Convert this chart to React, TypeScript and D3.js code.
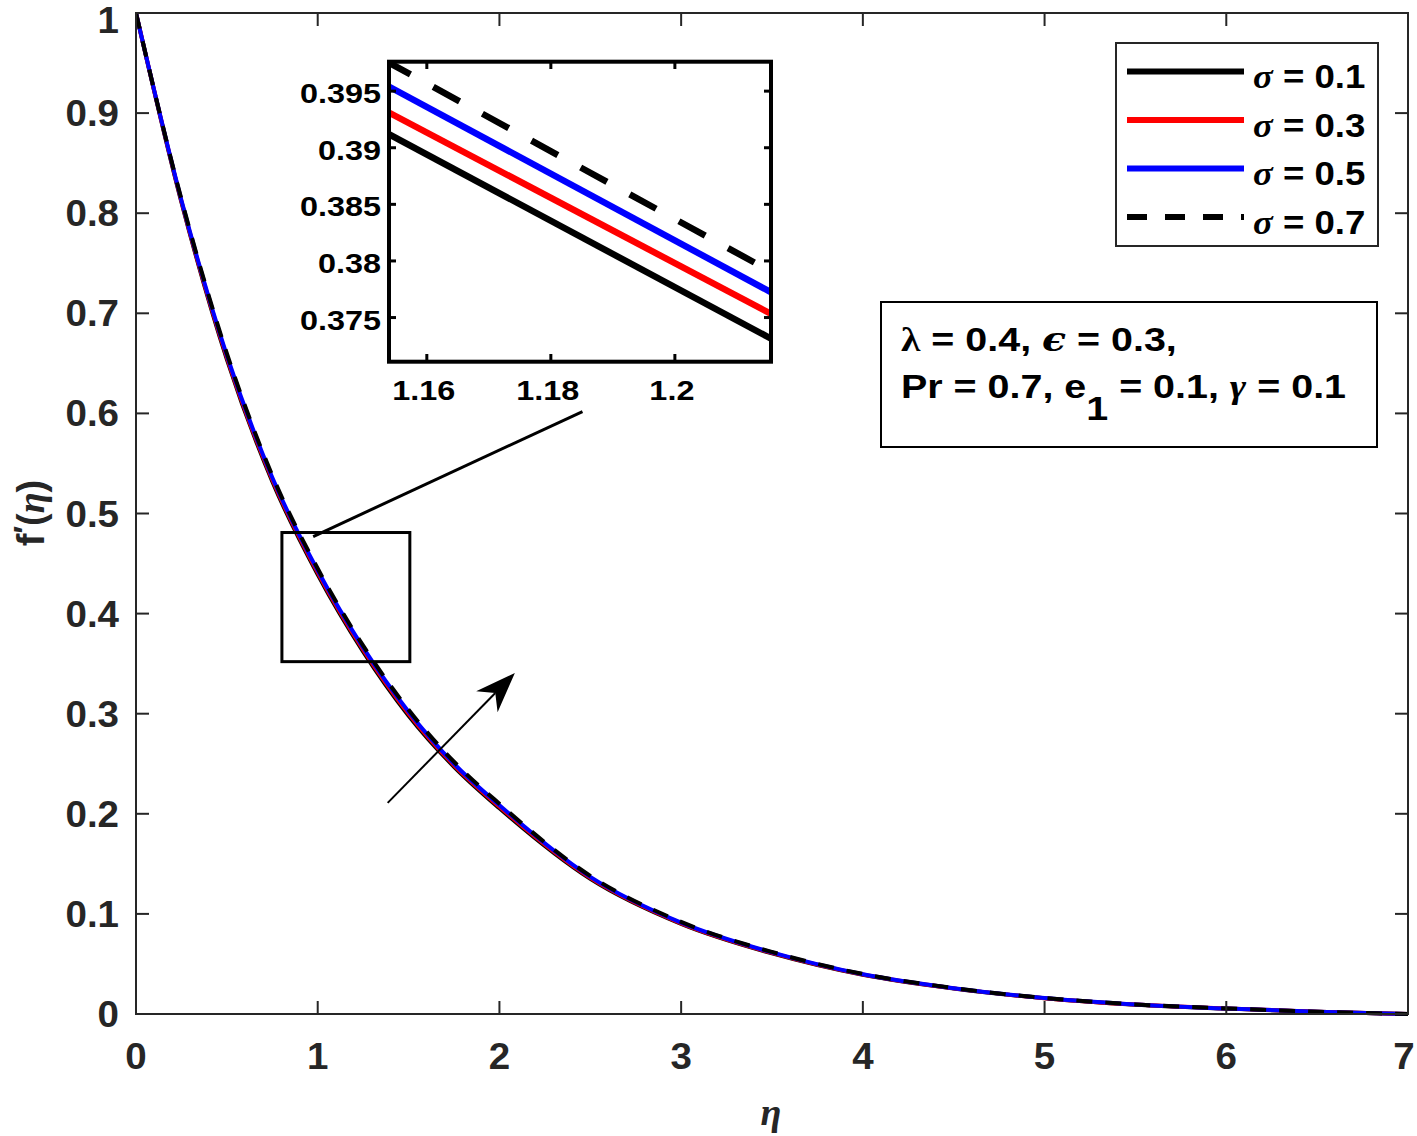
import React from 'react'
import * as d3 from 'd3'

// similarity variable eta and f'(eta), one list per sigma
const eta = [0, 0.25, 0.5, 0.75, 1, 1.25, 1.5, 1.75, 2, 2.5, 3, 3.5, 4, 4.5, 5, 5.5, 6, 6.5, 7]
const sigma01 = [1, 0.811, 0.654, 0.532, 0.439, 0.362, 0.298, 0.247, 0.2055, 0.135, 0.09, 0.0605, 0.0391, 0.0254, 0.0157, 0.0093, 0.0054, 0.0022, 0]
const sigma03 = [1, 0.812, 0.656, 0.534, 0.441, 0.364, 0.3, 0.2485, 0.207, 0.136, 0.0906, 0.061, 0.0394, 0.0256, 0.0158, 0.0094, 0.0055, 0.0023, 0]
const sigma05 = [1, 0.813, 0.658, 0.536, 0.443, 0.366, 0.302, 0.25, 0.2085, 0.137, 0.0913, 0.0615, 0.0397, 0.0258, 0.0159, 0.0095, 0.0055, 0.0023, 0]
const sigma07 = [1, 0.814, 0.66, 0.538, 0.445, 0.368, 0.304, 0.252, 0.21, 0.138, 0.092, 0.062, 0.04, 0.026, 0.016, 0.0096, 0.0056, 0.0023, 0]

const sigmaLabels = ['0.1', '0.3', '0.5', '0.7']
const seriesColors = ['#000000', '#ff0000', '#0000ff', '#000000']

// zoomed window
const insetEta = [1.15, 1.22]
const inset01 = [0.39234, 0.37182]
const inset03 = [0.39423, 0.37403]
const inset05 = [0.39655, 0.37591]
const inset07 = [0.39868, 0.37771]

const xTicks = [0, 1, 2, 3, 4, 5, 6, 7]
const yTicks = [0, 0.1, 0.2, 0.3, 0.4, 0.5, 0.6, 0.7, 0.8, 0.9, 1]
const insetXTicks = [1.16, 1.18, 1.2]
const insetYTicks = [0.375, 0.38, 0.385, 0.39, 0.395]

// annotation marks in data units
const zoomBox = { x0: 0.803, x1: 1.507, y0: 0.352, y1: 0.481 }
const connector = [[0.975, 0.477], [2.457, 0.6018]]
const arrow = [[1.385, 0.2109], [2.085, 0.3406]]

const W = 1417
const H = 1136
const sans = "'Liberation Sans', Arial, Helvetica, sans-serif"
const serif = "'Liberation Serif', 'DejaVu Serif', serif"
const axisColor = '#262626'

function App() {
  const x = d3.scaleLinear().domain([0, 7]).range([136, 1408])
  const y = d3.scaleLinear().domain([0, 1]).range([1014, 13])

  const ix = d3.scaleLinear().domain([1.1539, 1.2155]).range([389, 771])
  const iy = d3.scaleLinear().domain([0.3711, 0.3976]).range([361.7, 61.7])

  const series = [sigma01, sigma03, sigma05, sigma07]
  const insetSeries = [inset01, inset03, inset05, inset07]

  const line = d3.line<number>()
    .x((d, i) => x(eta[i]))
    .y(d => y(d))
    .curve(d3.curveMonotoneX)

  const insetLine = d3.line<number>()
    .x((d, i) => ix(insetEta[i]))
    .y(d => iy(d))

  const [ax0, ay0] = [x(arrow[0][0]), y(arrow[0][1])]
  const [ax1, ay1] = [x(arrow[1][0]), y(arrow[1][1])]
  const ang = Math.atan2(ay1 - ay0, ax1 - ax0)
  const rot = (len, off) => [ax1 - len * Math.cos(ang) + off * Math.sin(ang), ay1 - len * Math.sin(ang) - off * Math.cos(ang)]
  const headPts = [[ax1, ay1], rot(40, 15), rot(28, 0), rot(40, -15)]

  return (
    <svg width={W} height={H} style={{ position: 'absolute', left: 0, top: 0, background: '#fff' }}>
      <defs>
        <clipPath id="plotClip">
          <rect x={136} y={10} width={1272} height={1006} />
        </clipPath>
        <clipPath id="insetClip">
          <rect x={389} y={61.7} width={382} height={300} />
        </clipPath>
      </defs>
      <rect x={0} y={0} width={W} height={H} fill="#fff" />

      {/* main curves */}
      <g clipPath="url(#plotClip)">
        {series.map((s, i) => (
          <path key={i} d={line(s) || ''} fill="none" stroke={seriesColors[i]}
            strokeWidth={4} strokeDasharray={i === 3 ? '16 13' : undefined} />
        ))}
      </g>

      {/* main frame and ticks */}
      <rect x={136} y={13} width={1272} height={1001} fill="none" stroke={axisColor} strokeWidth={2} />
      <g stroke={axisColor} strokeWidth={2}>
        {xTicks.map(t => (
          <g key={'xt' + t}>
            <line x1={x(t)} x2={x(t)} y1={1014} y2={1001} />
            <line x1={x(t)} x2={x(t)} y1={13} y2={26} />
          </g>
        ))}
        {yTicks.map(t => (
          <g key={'yt' + t}>
            <line x1={136} x2={149} y1={y(t)} y2={y(t)} />
            <line x1={1408} x2={1395} y1={y(t)} y2={y(t)} />
          </g>
        ))}
      </g>
      <g fontFamily={sans} fontWeight="bold" fontSize={36} fill={axisColor}>
        {xTicks.map(t => (
          <text key={'xl' + t} transform={`translate(${Math.min(x(t), 1404)},1069) scale(1.07,1)`} textAnchor="middle">{t}</text>
        ))}
        {yTicks.map(t => (
          <text key={'yl' + t} transform={`translate(119,${Math.max(y(t) + 13, 33)}) scale(1.07,1)`} textAnchor="end">{+t.toFixed(1)}</text>
        ))}
      </g>

      {/* axis labels */}
      <text x={771} y={1125} textAnchor="middle" fontFamily={serif} fontStyle="italic" fontWeight="bold" fontSize={38} fill={axisColor}>η</text>
      <text transform="translate(44,513) rotate(-90)" textAnchor="middle" fontFamily={sans} fontWeight="bold" fontSize={38} fill={axisColor}>
        f<tspan dy={-8} fontSize={32}>′</tspan><tspan dy={8}>(</tspan><tspan fontFamily={serif} fontStyle="italic">η</tspan>)
      </text>

      {/* zoom box, connector and arrow */}
      <rect x={x(zoomBox.x0)} y={y(zoomBox.y1)} width={x(zoomBox.x1) - x(zoomBox.x0)} height={y(zoomBox.y0) - y(zoomBox.y1)}
        fill="none" stroke="#000" strokeWidth={3} />
      <line x1={x(connector[0][0])} y1={y(connector[0][1])} x2={x(connector[1][0])} y2={y(connector[1][1])} stroke="#000" strokeWidth={3} />
      <line x1={ax0} y1={ay0} x2={rot(28, 0)[0]} y2={rot(28, 0)[1]} stroke="#000" strokeWidth={2} />
      <polygon points={headPts.map(p => p.join(',')).join(' ')} fill="#000" />

      {/* inset */}
      <rect x={389} y={61.7} width={382} height={300} fill="#fff" />
      <g clipPath="url(#insetClip)">
        {insetSeries.map((s, i) => (
          <path key={i} d={insetLine(s) || ''} fill="none" stroke={seriesColors[i]}
            strokeWidth={6.5} strokeDasharray={i === 3 ? '30 26' : undefined} strokeDashoffset={i === 3 ? 34 : undefined} />
        ))}
      </g>
      <rect x={389} y={61.7} width={382} height={300} fill="none" stroke="#000" strokeWidth={4} />
      <g stroke="#000" strokeWidth={3}>
        {insetXTicks.map(t => (
          <g key={'ixt' + t}>
            <line x1={ix(t)} x2={ix(t)} y1={361.7} y2={354} />
            <line x1={ix(t)} x2={ix(t)} y1={61.7} y2={69} />
          </g>
        ))}
        {insetYTicks.map(t => (
          <g key={'iyt' + t}>
            <line x1={389} x2={396} y1={iy(t)} y2={iy(t)} />
            <line x1={771} x2={764} y1={iy(t)} y2={iy(t)} />
          </g>
        ))}
      </g>
      <g fontFamily={sans} fontWeight="bold" fontSize={27} fill="#000">
        {insetXTicks.map(t => (
          <text key={'ixl' + t} transform={`translate(${ix(t) - 3},400) scale(1.2,1)`} textAnchor="middle">{t}</text>
        ))}
        {insetYTicks.map(t => (
          <text key={'iyl' + t} transform={`translate(381,${iy(t) + 12}) scale(1.2,1)`} textAnchor="end">{t}</text>
        ))}
      </g>

      {/* legend */}
      <rect x={1116} y={43} width={262} height={203} fill="#fff" stroke={axisColor} strokeWidth={2} />
      {sigmaLabels.map((lab, i) => {
        const ly = 71.5 + i * 48.5
        return (
          <g key={lab}>
            <line x1={1127} x2={1244} y1={ly} y2={ly} stroke={seriesColors[i]} strokeWidth={6}
              strokeDasharray={i === 3 ? '20 18' : undefined} />
            <text transform={`translate(1253,${ly + 16.5}) scale(1.11,1)`} fontFamily={sans} fontWeight="bold" fontSize={33} fill="#000">
              <tspan fontFamily={serif} fontStyle="italic">σ</tspan> = {lab}
            </text>
          </g>
        )
      })}

      {/* parameter box */}
      <rect x={881} y={302} width={496} height={145} fill="#fff" stroke="#000" strokeWidth={2} />
      <g transform="translate(901,0) scale(1.16,1)" fontFamily={sans} fontWeight="bold" fontSize={34} fill="#000">
        <text x={0} y={351}>
          <tspan fontFamily={serif}>λ</tspan> = 0.4, <tspan fontFamily="'DejaVu Serif', serif" fontStyle="italic">ϵ</tspan> = 0.3,
        </text>
        <text x={0} y={398}>
          Pr = 0.7, e<tspan dy={22}>1</tspan><tspan dy={-22}> = 0.1, </tspan><tspan fontFamily={serif} fontStyle="italic">γ</tspan> = 0.1
        </text>
      </g>
    </svg>
  )
}

export default App
